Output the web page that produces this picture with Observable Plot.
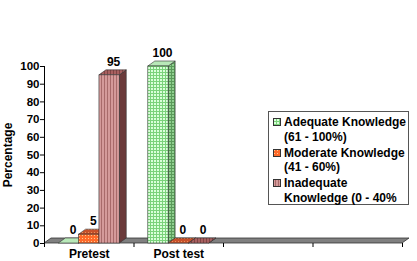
<!DOCTYPE html>
<html>
<head>
<meta charset="utf-8">
<script src="https://cdn.jsdelivr.net/npm/d3@7"></script>
<script src="https://cdn.jsdelivr.net/npm/@observablehq/plot@0.6"></script>
<style>
  html, body { margin: 0; padding: 0; background: #fff; }
  #wrap { position: relative; width: 417px; height: 261px; font-family: "Liberation Sans", Arial, sans-serif; }
  #legend { position: absolute; left: 268px; top: 111px; width: 141px; height: 94px; box-sizing: border-box;
            border: 1px solid #555; background: #fff; padding: 3px 1px 0 4px; }
  .item { display: flex; align-items: flex-start; font-weight: bold; font-size: 12px; line-height: 14.5px; margin-bottom: 1.5px; color: #000; }
  .sw { flex: none; width: 8px; height: 8px; margin: 3px 3px 0 0; }
</style>
</head>
<body>
<svg width="0" height="0" style="position:absolute">
  <defs>
    <pattern id="pGreen" width="3" height="3" patternUnits="userSpaceOnUse">
      <rect width="3" height="3" fill="#d9ffd9"/>
      <path d="M0 0.5H3M0.5 0V3" stroke="#7ad27a" stroke-width="1"/>
    </pattern>
    <pattern id="pGreenSide" width="3" height="3" patternUnits="userSpaceOnUse">
      <rect width="3" height="3" fill="#8fcf8f"/>
      <path d="M0 0.5H3M0.5 0V3" stroke="#5a9a5a" stroke-width="1"/>
    </pattern>
    <pattern id="pOrange" width="3" height="3" patternUnits="userSpaceOnUse">
      <rect width="3" height="3" fill="#ff6a2a"/>
      <rect x="1" y="1" width="1" height="1" fill="#ffc890"/>
    </pattern>
    <pattern id="pOrangeTop" width="3" height="3" patternUnits="userSpaceOnUse">
      <rect width="3" height="3" fill="#c8502a"/>
      <rect x="1" y="1" width="1" height="1" fill="#e8905a"/>
    </pattern>
    <pattern id="pBrown" width="3" height="3" patternUnits="userSpaceOnUse">
      <rect width="3" height="3" fill="#d49a9a"/>
      <rect x="2" y="0" width="1" height="3" fill="#a86a6a"/>
    </pattern>
    <pattern id="pBrownTop" width="3" height="3" patternUnits="userSpaceOnUse">
      <rect width="3" height="3" fill="#a86060"/>
      <rect x="2" y="0" width="1" height="3" fill="#804444"/>
    </pattern>
  </defs>
</svg>
<div id="wrap">
  <div id="chart"></div>
  <div id="legend"></div>
</div>
<script>
// ---- data ----
const categories = ["Pretest", "Post test"];
const seriesNames = ["Adequate Knowledge (61 - 100%)", "Moderate Knowledge (41 - 60%)", "Inadequate Knowledge (0 - 40%"];
const adequate = [0, 100];
const moderate = [5, 0];
const inadequate = [95, 0];
const yTicks = [0, 10, 20, 30, 40, 50, 60, 70, 80, 90, 100];
const slotCount = 4; // two categories followed by two empty slots

// ---- styles (per series) ----
const frontFill = ["url(#pGreen)", "url(#pOrange)", "url(#pBrown)"];
const sideFill = ["url(#pGreenSide)", "#7a3a1e", "#6b3a3a"];
const topFill = ["#b8e8b8", "url(#pOrangeTop)", "url(#pBrownTop)"];
const swatchFill = ["url(#pGreen)", "url(#pOrange)", "url(#pBrown)"];

const seriesValues = [adequate, moderate, inadequate];
const barW = 0.227, barStart = 0.16;
const rows = [];
categories.forEach((c, gi) => {
  seriesValues.forEach((vals, si) => {
    const x1 = gi + barStart + si * barW;
    rows.push({category: c, gi, si, value: vals[gi], x1, x2: x1 + barW, xc: x1 + barW / 2});
  });
});

const DX = 7, DY = 5; // 3-D depth in pixels

function floorMark(index, {x, y}) {
  const g = d3.create("svg:g");
  const x0 = x(0), x1 = x(slotCount), y0 = y(0);
  g.append("polygon")
    .attr("points", [[x0, y0], [x1, y0], [x1 + DX, y0 - DY], [x0 + DX, y0 - DY]].join(" "))
    .attr("fill", "#808080").attr("stroke", "#333").attr("stroke-width", 0.8);
  return g.node();
}

function depthMark(index, {x, y}) {
  const g = d3.create("svg:g");
  for (const r of rows) {
    const a = x(r.x1), b = x(r.x2), y0 = y(0), yv = y(r.value);
    g.append("polygon")
      .attr("points", [[b, y0], [b + DX, y0 - DY], [b + DX, yv - DY], [b, yv]].join(" "))
      .attr("fill", sideFill[r.si]).attr("stroke", "#333").attr("stroke-width", 0.6);
    g.append("polygon")
      .attr("points", [[a, yv], [b, yv], [b + DX, yv - DY], [a + DX, yv - DY]].join(" "))
      .attr("fill", topFill[r.si]).attr("stroke", "#333").attr("stroke-width", 0.6);
  }
  return g.node();
}

const chart = Plot.plot({
  width: 417,
  height: 261,
  marginLeft: 44,
  marginRight: 15,
  marginTop: 66,
  marginBottom: 18,
  style: {fontFamily: "'Liberation Sans', Arial, sans-serif", fontWeight: "bold", fontSize: "11.5px", color: "#000", background: "transparent"},
  x: {domain: [0, slotCount]},
  y: {domain: [0, 100]},
  marks: [
    floorMark,
    depthMark,
    Plot.rect(rows, {
      x1: "x1", x2: "x2", y1: 0, y2: "value",
      fill: d => frontFill[d.si], stroke: "#333", strokeWidth: 0.6
    }),
    Plot.ruleX([0], {y1: 0, y2: 100, stroke: "#000", strokeWidth: 1}),
    Plot.axisY({ticks: yTicks, tickSize: 4, tickPadding: 1, label: null}),
    Plot.axisX({ticks: d3.range(0, slotCount + 1), tickSize: 4, tickFormat: () => "", label: null}),
    Plot.text(categories, {x: (d, i) => i + 0.5, y: 0, dy: 11, text: d => d, fontSize: 12, fontWeight: "bold"}),
    Plot.text(rows, {x: "xc", y: "value", dx: 4, dy: -13, text: d => String(d.value), fontSize: 12, fontWeight: "bold"}),
    Plot.text(["Percentage"], {x: -0.41, y: 50, text: d => d, rotate: -90, fontSize: 12, fontWeight: "bold"})
  ]
});
document.getElementById("chart").appendChild(chart);

// legend
const legend = d3.select("#legend");
seriesNames.forEach((name, i) => {
  const item = legend.append("div").attr("class", "item");
  item.append("svg").attr("class", "sw").attr("width", 8).attr("height", 8)
    .append("rect").attr("x", 0.5).attr("y", 0.5).attr("width", 7).attr("height", 7)
    .attr("fill", swatchFill[i]).attr("stroke", "#333");
  item.append("span").text(name);
});
</script>
</body>
</html>
